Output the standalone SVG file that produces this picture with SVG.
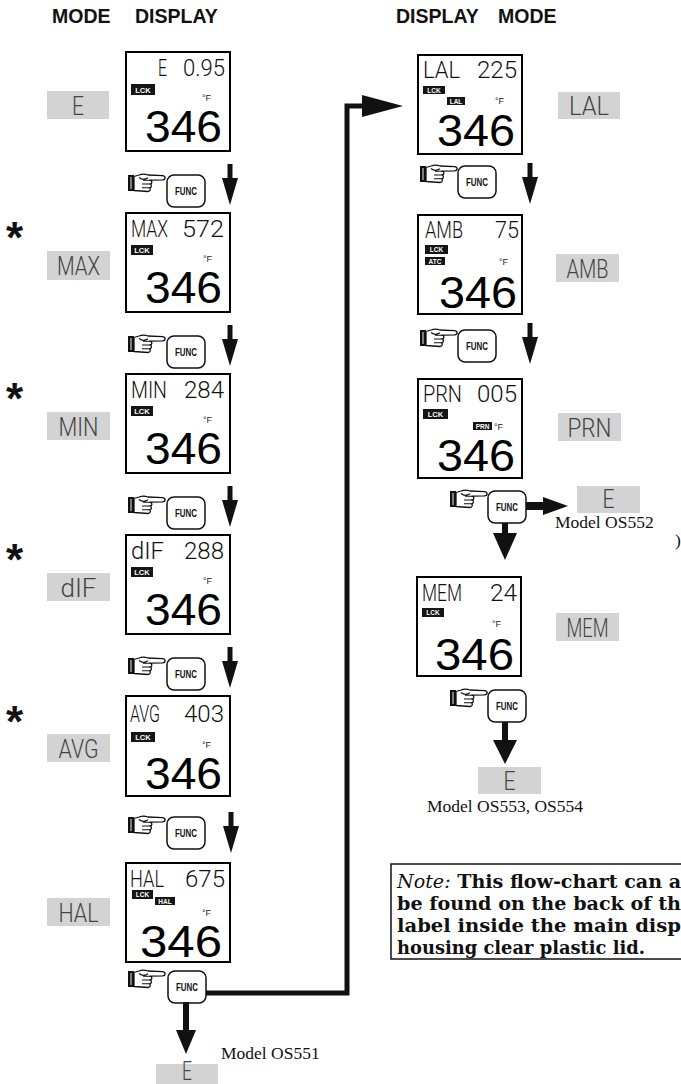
<svg xmlns="http://www.w3.org/2000/svg" xmlns:xlink="http://www.w3.org/1999/xlink" width="681" height="1084" viewBox="0 0 681 1084">
<style>
.bg{fill:#fff}
.box{fill:#fff;stroke:#000;stroke-width:2}
.seg{font-family:Roboto,"Noto Sans","DejaVu Sans",sans-serif;font-weight:300;font-size:23px;fill:#111}
.segr{font-family:Roboto,"Noto Sans","DejaVu Sans",sans-serif;font-weight:300;font-size:23px;fill:#111;text-anchor:end}
.big{font-family:"Liberation Sans",Arial,sans-serif;font-size:45px;fill:#000}
.badge{fill:#151515}
.bt{font-family:"Liberation Sans",Arial,sans-serif;font-weight:bold;font-size:7.5px;fill:#fff;text-anchor:middle}
.bts{font-family:"Liberation Sans",Arial,sans-serif;font-weight:bold;font-size:6.5px;fill:#fff;text-anchor:middle}
.degf{font-family:"Liberation Sans",Arial,sans-serif;font-size:9px;fill:#222}
.mode{fill:#d3d3d3}
.modet{font-family:Roboto,"Noto Sans","DejaVu Sans",sans-serif;font-weight:300;font-size:25px;fill:#444;text-anchor:middle}
.hdr{font-family:"Liberation Sans",Arial,sans-serif;font-weight:bold;font-size:19.5px;fill:#111}
.model{font-family:"Liberation Serif","Times New Roman",serif;font-size:17.5px;fill:#111}
.note{font-family:"DejaVu Serif","Liberation Serif",serif;font-weight:bold;font-size:18.5px;fill:#111}
.noteit{font-style:italic;font-weight:normal}
.star{font-family:"Liberation Sans",Arial,sans-serif;font-weight:bold;font-size:44px;fill:#111}
.conn{fill:none;stroke:#111;stroke-width:5}
.arr{fill:#111}
.btn{fill:#fff;stroke:#111;stroke-width:1.5}
.btnt{font-family:"Liberation Sans",Arial,sans-serif;font-weight:bold;font-size:10px;fill:#111;text-anchor:middle}
.handl{fill:#fff;stroke:#111;stroke-width:1.3;stroke-linejoin:round}
.handf{fill:none;stroke:#111;stroke-width:1.1}
</style>
<defs>
<g id="hand">
<rect x="0" y="2" width="6" height="16" fill="#111"/>
<line x1="3" y1="4" x2="3" y2="16" stroke="#fff" stroke-width="0.9"/>
<path class="handl" d="M6,3.5 L11,2 C14,0.8 17,0.8 20,2 L34.5,2.6 C38,3 38,6.5 34.5,6.8 L22,7.2 C24.5,7.6 24.5,10.8 22,11 C24,11.6 24,14.6 21.5,14.8 C23,15.5 22.5,18.5 20,18.5 L6,17.5 Z"/>
<path class="handf" d="M15,7.2 L22,7.2 M14,11 L22,11 M14,14.8 L21.5,14.8 M11,4.5 C14,7 17,6.8 20,4.8"/>
</g>
<g id="func">
<rect class="btn" x="0" y="0" width="38" height="32" rx="7"/>
<text class="btnt" x="19" y="20" textLength="22" lengthAdjust="spacingAndGlyphs">FUNC</text>
</g>
<path id="dn" class="arr" d="M-2.5,0 H2.5 V14 H8 L0,41 L-8,14 H-2.5 Z"/>
</defs>
<rect class="bg" x="0" y="0" width="681" height="1084"/>

<g id="headers">
<text class="hdr" x="52" y="23">MODE</text>
<text class="hdr" x="135" y="23">DISPLAY</text>
<text class="hdr" x="396" y="23">DISPLAY</text>
<text class="hdr" x="498" y="23">MODE</text>
</g>

<!-- Left column displays -->
<g id="disp-E">
<rect class="box" x="126" y="52" width="104" height="99"/>
<text class="seg" x="158" y="76" textLength="9" lengthAdjust="spacingAndGlyphs">E</text>
<text class="segr" x="225" y="76" textLength="42" lengthAdjust="spacingAndGlyphs">0.95</text>
<rect class="badge" x="131" y="84" width="24" height="11"/><text class="bt" x="143" y="92.5">LCK</text>
<text class="degf" x="202" y="100.5">°F</text>
<text class="big" x="145" y="142" textLength="77" lengthAdjust="spacingAndGlyphs">346</text>
</g>
<g id="disp-MAX">
<rect class="box" x="126" y="213" width="104" height="99"/>
<text class="seg" x="131" y="237" textLength="37" lengthAdjust="spacingAndGlyphs">MAX</text>
<text class="segr" x="224" y="237" textLength="42" lengthAdjust="spacingAndGlyphs">572</text>
<rect class="badge" x="131" y="245" width="22" height="10"/><text class="bt" x="142" y="253">LCK</text>
<text class="degf" x="203" y="262">°F</text>
<text class="big" x="145" y="303" textLength="77" lengthAdjust="spacingAndGlyphs">346</text>
</g>
<g id="disp-MIN">
<rect class="box" x="126" y="374" width="104" height="99"/>
<text class="seg" x="131" y="398" textLength="36" lengthAdjust="spacingAndGlyphs">MIN</text>
<text class="segr" x="224" y="398" textLength="40" lengthAdjust="spacingAndGlyphs">284</text>
<rect class="badge" x="131" y="406" width="22" height="10"/><text class="bt" x="142" y="414">LCK</text>
<text class="degf" x="203" y="423">°F</text>
<text class="big" x="145" y="464" textLength="77" lengthAdjust="spacingAndGlyphs">346</text>
</g>
<g id="disp-dIF">
<rect class="box" x="126" y="535" width="104" height="99"/>
<text class="seg" x="131" y="559" textLength="33" lengthAdjust="spacingAndGlyphs">dIF</text>
<text class="segr" x="224" y="559" textLength="40" lengthAdjust="spacingAndGlyphs">288</text>
<rect class="badge" x="131" y="567" width="22" height="10"/><text class="bt" x="142" y="575">LCK</text>
<text class="degf" x="203" y="584">°F</text>
<text class="big" x="145" y="625" textLength="77" lengthAdjust="spacingAndGlyphs">346</text>
</g>
<g id="disp-AVG">
<rect class="box" x="126" y="696" width="104" height="100"/>
<text class="seg" x="130" y="722" textLength="30" lengthAdjust="spacingAndGlyphs">AVG</text>
<text class="segr" x="224" y="722" textLength="40" lengthAdjust="spacingAndGlyphs">403</text>
<rect class="badge" x="131" y="732" width="24" height="10"/><text class="bt" x="143" y="740">LCK</text>
<text class="degf" x="202" y="748">°F</text>
<text class="big" x="145" y="789" textLength="77" lengthAdjust="spacingAndGlyphs">346</text>
</g>
<g id="disp-HAL">
<rect class="box" x="126" y="863" width="104" height="99"/>
<text class="seg" x="130" y="887" textLength="34" lengthAdjust="spacingAndGlyphs">HAL</text>
<text class="segr" x="225" y="887" textLength="40" lengthAdjust="spacingAndGlyphs">675</text>
<rect class="badge" x="132" y="890" width="21" height="9"/><text class="bts" x="142.5" y="897">LCK</text>
<rect class="badge" x="155" y="897" width="20" height="8"/><text class="bts" x="165" y="903.5">HAL</text>
<text class="degf" x="202" y="916">°F</text>
<text class="big" x="140" y="957" textLength="82" lengthAdjust="spacingAndGlyphs">346</text>
</g>

<!-- Right column displays -->
<g id="disp-LAL">
<rect class="box" x="418" y="55" width="104" height="99"/>
<text class="seg" x="423" y="78" textLength="37" lengthAdjust="spacingAndGlyphs">LAL</text>
<text class="segr" x="517" y="78" textLength="40" lengthAdjust="spacingAndGlyphs">225</text>
<rect class="badge" x="423" y="86" width="22" height="8"/><text class="bts" x="434" y="92.5">LCK</text>
<rect class="badge" x="447" y="97" width="18" height="8"/><text class="bts" x="456" y="103.5">LAL</text>
<text class="degf" x="495" y="104">°F</text>
<text class="big" x="437" y="146" textLength="78" lengthAdjust="spacingAndGlyphs">346</text>
</g>
<g id="disp-AMB">
<rect class="box" x="418" y="215" width="104" height="99"/>
<text class="seg" x="425" y="238" textLength="38" lengthAdjust="spacingAndGlyphs">AMB</text>
<text class="segr" x="519" y="238" textLength="24" lengthAdjust="spacingAndGlyphs">75</text>
<rect class="badge" x="425" y="245" width="23" height="9"/><text class="bts" x="436.5" y="252">LCK</text>
<rect class="badge" x="425" y="257" width="20" height="8"/><text class="bts" x="435" y="263.5">ATC</text>
<text class="degf" x="499" y="265">°F</text>
<text class="big" x="439" y="308" textLength="78" lengthAdjust="spacingAndGlyphs">346</text>
</g>
<g id="disp-PRN">
<rect class="box" x="418" y="379" width="104" height="99"/>
<text class="seg" x="423" y="402" textLength="39" lengthAdjust="spacingAndGlyphs">PRN</text>
<text class="segr" x="517" y="402" textLength="40" lengthAdjust="spacingAndGlyphs">005</text>
<rect class="badge" x="423" y="409" width="25" height="10"/><text class="bt" x="435.5" y="417">LCK</text>
<rect class="badge" x="473" y="422" width="19" height="8"/><text class="bts" x="482.5" y="428.5">PRN</text>
<text class="degf" x="494" y="430">°F</text>
<text class="big" x="437" y="471" textLength="78" lengthAdjust="spacingAndGlyphs">346</text>
</g>
<g id="disp-MEM">
<rect class="box" x="417" y="577" width="104" height="99"/>
<text class="seg" x="422" y="601" textLength="40" lengthAdjust="spacingAndGlyphs">MEM</text>
<text class="segr" x="517" y="601" textLength="27" lengthAdjust="spacingAndGlyphs">24</text>
<rect class="badge" x="422" y="608" width="22" height="9"/><text class="bts" x="433" y="615">LCK</text>
<text class="degf" x="492" y="627">°F</text>
<text class="big" x="435" y="670" textLength="79" lengthAdjust="spacingAndGlyphs">346</text>
</g>

<!-- Mode labels -->
<g id="mode-E"><rect class="mode" x="47" y="91" width="62" height="28"/><text class="modet" x="78" y="115" textLength="12" lengthAdjust="spacingAndGlyphs">E</text></g>
<g id="mode-MAX"><rect class="mode" x="47" y="251" width="63" height="29"/><text class="modet" x="78.5" y="275" textLength="43" lengthAdjust="spacingAndGlyphs">MAX</text></g>
<g id="mode-MIN"><rect class="mode" x="47" y="412" width="63" height="28"/><text class="modet" x="78.5" y="436" textLength="40" lengthAdjust="spacingAndGlyphs">MIN</text></g>
<g id="mode-dIF"><rect class="mode" x="47" y="573" width="63" height="28"/><text class="modet" x="78.5" y="597" textLength="36" lengthAdjust="spacingAndGlyphs">dIF</text></g>
<g id="mode-AVG"><rect class="mode" x="47" y="734" width="63" height="28"/><text class="modet" x="78.5" y="758" textLength="40" lengthAdjust="spacingAndGlyphs">AVG</text></g>
<g id="mode-HAL"><rect class="mode" x="47" y="898" width="63" height="28"/><text class="modet" x="78.5" y="922" textLength="40" lengthAdjust="spacingAndGlyphs">HAL</text></g>
<g id="mode-LAL"><rect class="mode" x="558" y="92" width="62" height="27"/><text class="modet" x="589" y="115" textLength="40" lengthAdjust="spacingAndGlyphs">LAL</text></g>
<g id="mode-AMB"><rect class="mode" x="556" y="254" width="63" height="28"/><text class="modet" x="587.5" y="278" textLength="42" lengthAdjust="spacingAndGlyphs">AMB</text></g>
<g id="mode-PRN"><rect class="mode" x="558" y="413" width="63" height="28"/><text class="modet" x="589.5" y="437" textLength="44" lengthAdjust="spacingAndGlyphs">PRN</text></g>
<g id="mode-MEM"><rect class="mode" x="556" y="613" width="63" height="28"/><text class="modet" x="587.5" y="637" textLength="42" lengthAdjust="spacingAndGlyphs">MEM</text></g>
<g id="mode-E-OS551"><rect class="mode" x="156" y="1064" width="62" height="20"/><text class="modet" x="187" y="1080" font-size="19" textLength="10" lengthAdjust="spacingAndGlyphs">E</text></g>
<g id="mode-E-OS552"><rect class="mode" x="577" y="486" width="63" height="27"/><text class="modet" x="608.5" y="508" textLength="12" lengthAdjust="spacingAndGlyphs">E</text></g>
<g id="mode-E-OS553"><rect class="mode" x="478" y="767" width="63" height="27"/><text class="modet" x="509.5" y="790" textLength="12" lengthAdjust="spacingAndGlyphs">E</text></g>

<!-- asterisks -->
<g id="stars">
<text class="star" x="6" y="253">*</text>
<text class="star" x="6" y="414">*</text>
<text class="star" x="6" y="575">*</text>
<text class="star" x="6" y="737">*</text>
</g>

<!-- FUNC buttons with hands -->
<g id="func-1"><use xlink:href="#hand" x="128" y="173"/><use xlink:href="#func" x="167" y="175"/></g>
<g id="func-2"><use xlink:href="#hand" x="128" y="334"/><use xlink:href="#func" x="167" y="336"/></g>
<g id="func-3"><use xlink:href="#hand" x="128" y="495"/><use xlink:href="#func" x="167" y="497"/></g>
<g id="func-4"><use xlink:href="#hand" x="128" y="656"/><use xlink:href="#func" x="167" y="658"/></g>
<g id="func-5"><use xlink:href="#hand" x="128" y="815"/><use xlink:href="#func" x="167" y="817"/></g>
<g id="func-6"><use xlink:href="#hand" x="128" y="969"/><use xlink:href="#func" x="168" y="971"/></g>
<g id="func-7"><use xlink:href="#hand" x="420" y="164"/><use xlink:href="#func" x="458" y="166"/></g>
<g id="func-8"><use xlink:href="#hand" x="420" y="328"/><use xlink:href="#func" x="458" y="330"/></g>
<g id="func-9"><use xlink:href="#hand" x="450" y="489"/><use xlink:href="#func" x="488" y="491"/></g>
<g id="func-10"><use xlink:href="#hand" x="450" y="688"/><use xlink:href="#func" x="488" y="690"/></g>

<!-- Connectors -->
<g id="connectors">
<use xlink:href="#dn" x="230" y="164"/>
<use xlink:href="#dn" x="230" y="325"/>
<use xlink:href="#dn" x="230" y="486"/>
<use xlink:href="#dn" x="230" y="647"/>
<use xlink:href="#dn" x="231" y="812"/>
<use xlink:href="#dn" x="530" y="163"/>
<use xlink:href="#dn" x="530" y="323"/>
<path class="conn" d="M206,993 H347 V106 H366"/>
<polygon class="arr" points="362,95 403,106 362,117"/>
<path class="arr" d="M183,1002 H189 V1030 H196 L186,1054 L176,1030 H183 Z"/>
<path class="arr" d="M526,502 H543 V497 L568,506 L543,515 V510 H526 Z"/>
<path class="arr" d="M502,523 H508 V533 H517 L505,560 L493,533 H502 Z"/>
<path class="arr" d="M502,722 H508 V740 H517 L505,764 L493,740 H502 Z"/>
</g>

<!-- Model labels -->
<g id="labels">
<text class="model" x="221" y="1059">Model OS551</text>
<text class="model" x="555" y="528">Model OS552</text>
<text class="model" x="505" y="812" text-anchor="middle">Model OS553, OS554</text>
<text class="model" x="675" y="546">)</text>
</g>

<!-- Note -->
<g id="note">
<path d="M681,864 H391 V959 H681" fill="#fff" stroke="#111" stroke-width="1.5"/>
<text class="note" x="397" y="888" textLength="284" lengthAdjust="spacingAndGlyphs"><tspan class="noteit">Note:</tspan> This flow-chart can a</text>
<text class="note" x="397" y="910" textLength="284" lengthAdjust="spacingAndGlyphs">be found on the back of th</text>
<text class="note" x="397" y="932" textLength="284" lengthAdjust="spacingAndGlyphs">label inside the main disp</text>
<text class="note" x="397" y="954" textLength="248" lengthAdjust="spacingAndGlyphs">housing clear plastic lid.</text>
</g>
</svg>
